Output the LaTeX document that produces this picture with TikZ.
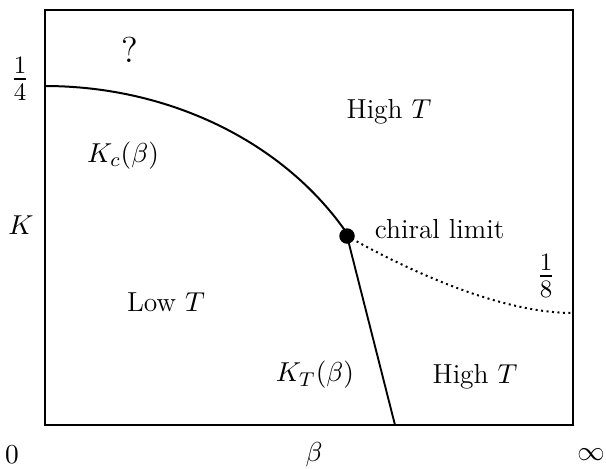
\documentclass[tikz,border=0pt]{standalone}
\usepackage{amsmath}
\usepackage{tikz}
\usetikzlibrary{calc}

\begin{document}
\begin{tikzpicture}[x=0.4pt, y=-0.4pt, font=\fontsize{11}{13.5}\selectfont]
\useasboundingbox (0,0) rectangle (606,468);
% frame of the (beta, K) plane, beta from 0 to infinity
\draw[line width=0.9pt] (45,10) rectangle (573,425);
\coordinate (kquarter) at (45,86);
\coordinate (keighth) at (573,313);
\coordinate (ktbottom) at (395,425);
% the chiral limit sits where the three lines meet
\node[circle, fill, inner sep=0pt, minimum size=6.2pt] (chiral) at (347,236) {};
% K_c(beta): a piece of an ellipse, flat at beta=0
\draw[line width=0.8pt] (kquarter) -- plot[domain=0:59.5, samples=40, smooth] ({45+350*sin(\x)}, {86+298*(1-cos(\x))}) -- (chiral.center);
\draw[line width=0.75pt] (chiral.center) -- (ktbottom);
\draw[line width=0.8pt, dash pattern=on 0.8pt off 1.4pt] (chiral.center) .. controls (407,270) and (500,313) .. (keighth);
% axis labels
\node (zero) at (12,455) {$0$};
\node (beta) at (314,455) {$\beta$};
\node (infty) at (591,455) {$\infty$};
\node (kaxis) at (21,225) {$K$};
\node[font=\fontsize{14.4}{17}\selectfont] (quarter) at (20,79) {$\frac{1}{4}$};
\node[font=\fontsize{14.4}{17}\selectfont] (eighth) at (546,276) {$\frac{1}{8}$};
% region labels
\node[font=\Large] (unknown) at (130,50) {?};
\node (highup) at (389,112) {High $T$};
\node (kc) at (123,156) {$K_c(\beta)$};
\node (low) at (166,302) {Low $T$};
\node (kt) at (315,375) {$K_T(\beta)$};
\node (highdown) at (475,377) {High $T$};
\node[anchor=west] (chirallabel) at (366,229) {chiral limit};
\end{tikzpicture}
\end{document}
